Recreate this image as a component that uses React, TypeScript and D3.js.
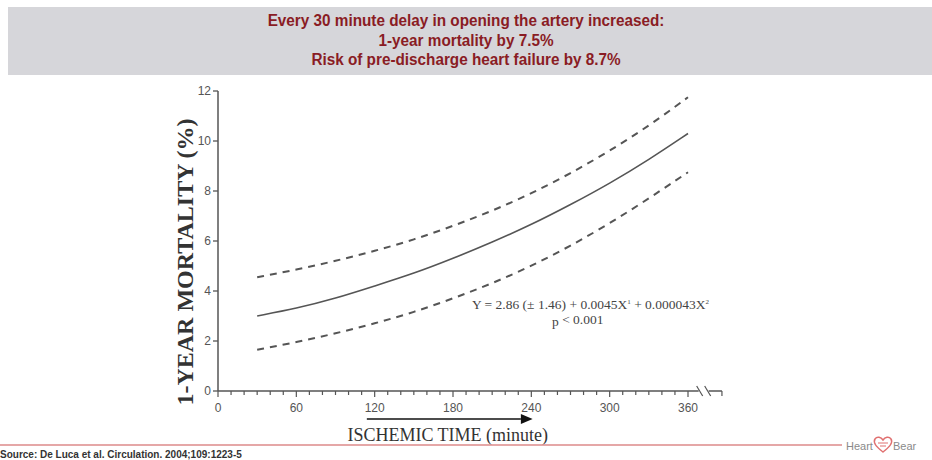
import * as d3 from "d3"

// values (minutes -> % mortality)
const minutes = [30, 60, 90, 120, 150, 180, 210, 240, 270, 300, 330, 360]
const fitted = [3.0, 3.3, 3.7, 4.2, 4.7, 5.3, 5.95, 6.65, 7.45, 8.3, 9.25, 10.3]
const upperCI = [4.55, 4.85, 5.2, 5.6, 6.05, 6.6, 7.2, 7.9, 8.7, 9.6, 10.6, 11.75]
const lowerCI = [1.65, 1.95, 2.3, 2.7, 3.15, 3.7, 4.3, 5.0, 5.8, 6.7, 7.7, 8.75]

const yTicks = [0, 2, 4, 6, 8, 10, 12]
const xLabels = [0, 60, 120, 180, 240, 300, 360]
const xMinor = d3.range(0, 361, 10)

const headerLines = [
  "Every 30 minute delay in opening the artery increased:",
  "1-year mortality by 7.5%",
  "Risk of pre-discharge heart failure by 8.7%",
]

const W = 932
const H = 460

export default function App() {
  const x = d3.scaleLinear().domain([0, 360]).range([218, 688])
  const y = d3.scaleLinear().domain([0, 12]).range([391, 91])
  const axisEnd = x(386)
  const breakX = x(372)

  const line = d3
    .line<number>()
    .x((_, i) => x(minutes[i]))
    .y((d) => y(d))
    .curve(d3.curveBasis)

  const axisColor = "#555"
  const tickFont = "Liberation Sans, Arial, sans-serif"
  const serif = "Liberation Serif, Times New Roman, serif"

  return (
    <svg width={W} height={H} style={{ position: "absolute", left: 0, top: 0, background: "#fff" }}>
      {/* header band */}
      <rect x={8} y={7} width={W - 8} height={68} fill="#d6d6da" />
      {headerLines.map((t, i) => (
        <text
          key={i}
          transform={`translate(466,${26 + i * 19.5}) scale(0.9,1)`}
          textAnchor="middle"
          fontFamily="Liberation Sans Narrow, Arial Narrow, Liberation Sans, sans-serif"
          fontWeight="bold"
          fontSize={17}
          fill="#8a1c24"
        >
          {t}
        </text>
      ))}

      {/* y axis */}
      <line x1={218} x2={218} y1={y(12)} y2={y(0)} stroke={axisColor} strokeWidth={1.5} />
      {yTicks.map((t) => (
        <g key={t}>
          <line x1={213} x2={218} y1={y(t)} y2={y(t)} stroke={axisColor} strokeWidth={1.3} />
          <text x={211} y={y(t) + 4} textAnchor="end" fontFamily={tickFont} fontSize={12} fill="#555">
            {t}
          </text>
        </g>
      ))}
      <text
        transform={`translate(193,262) rotate(-90)`}
        textAnchor="middle"
        fontFamily={serif}
        fontWeight="bold"
        fontSize={24}
        fill="#333"
      >
        1-YEAR MORTALITY (%)
      </text>

      {/* x axis */}
      <line x1={218} x2={axisEnd} y1={y(0)} y2={y(0)} stroke={axisColor} strokeWidth={1.5} />
      {xMinor.map((m) => (
        <line
          key={m}
          x1={x(m)}
          x2={x(m)}
          y1={y(0)}
          y2={y(0) + (m % 60 === 0 ? 6 : 4)}
          stroke={axisColor}
          strokeWidth={1.2}
        />
      ))}
      <line x1={axisEnd} x2={axisEnd} y1={y(0)} y2={y(0) + 5} stroke={axisColor} strokeWidth={1.2} />
      <rect x={breakX - 5} y={y(0) - 6} width={10} height={12} fill="#fff" />
      <line x1={breakX - 7} x2={breakX - 1} y1={y(0) - 5} y2={y(0) + 5} stroke={axisColor} strokeWidth={1.2} />
      <line x1={breakX + 1} x2={breakX + 7} y1={y(0) - 5} y2={y(0) + 5} stroke={axisColor} strokeWidth={1.2} />
      {xLabels.map((m) => (
        <text key={m} x={x(m)} y={412} textAnchor="middle" fontFamily={tickFont} fontSize={12} fill="#555">
          {m}
        </text>
      ))}

      {/* arrow */}
      <line x1={x(114)} x2={x(232)} y1={419} y2={419} stroke="#111" strokeWidth={1.5} />
      <path d={`M${x(232)},414 L${x(241)},419 L${x(232)},424 Z`} fill="#111" />
      <text x={x(176)} y={441} textAnchor="middle" fontFamily={serif} fontSize={18} fill="#333">
        ISCHEMIC TIME (minute)
      </text>

      {/* curves */}
      <path d={line(upperCI) ?? ""} fill="none" stroke="#555" strokeWidth={2} strokeDasharray="7,6" />
      <path d={line(fitted) ?? ""} fill="none" stroke="#555" strokeWidth={1.6} />
      <path d={line(lowerCI) ?? ""} fill="none" stroke="#555" strokeWidth={2} strokeDasharray="7,6" />

      {/* regression annotation */}
      <text x={472} y={309} fontFamily={serif} fontSize={13.5} fill="#444">
        Y = 2.86 (± 1.46) + 0.0045X<tspan dy={-5} fontSize={7}>1</tspan>
        <tspan dy={5}> + 0.000043X</tspan>
        <tspan dy={-5} fontSize={7}>2</tspan>
      </text>
      <text x={552} y={326} fontFamily={serif} fontSize={13.5} fill="#444">
        p<tspan dy={-2}> &lt; 0.001</tspan>
      </text>

      {/* footer */}
      <line x1={0} x2={842} y1={445} y2={445} stroke="#dc8a8a" strokeWidth={1.5} />
      <text x={0} y={458} fontFamily={tickFont} fontWeight="bold" fontSize={10} fill="#333">
        Source:  De Luca et al. Circulation. 2004;109:1223-5
      </text>
      <text x={846} y={450} fontFamily={tickFont} fontSize={11} fill="#8a8a8a">
        Heart
      </text>
      <path
        d="M883,452 C875,446 873,442 875,439 C877,436 881,437 883,440 C885,437 889,436 891,439 C893,442 891,446 883,452 Z"
        fill="none"
        stroke="#e07070"
        strokeWidth={1.5}
      />
      <line x1={878} x2={888} y1={443} y2={443} stroke="#e07070" strokeWidth={1} />
      <line x1={880} x2={886} y1={446} y2={446} stroke="#e07070" strokeWidth={1} />
      <text x={893} y={450} fontFamily={tickFont} fontSize={11} fill="#8a8a8a">
        Bear
      </text>
    </svg>
  )
}
